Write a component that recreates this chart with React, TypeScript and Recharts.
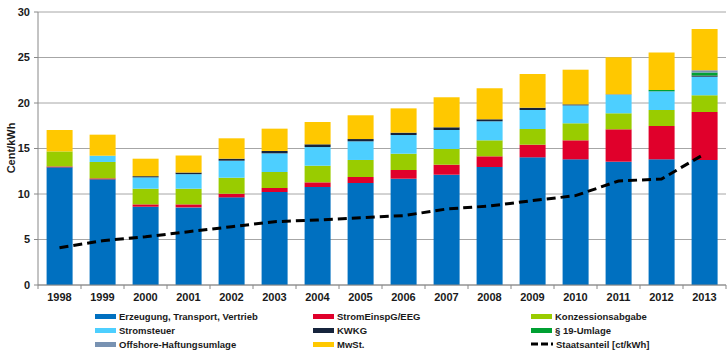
import {
  Bar,
  CartesianGrid,
  ComposedChart,
  Line,
  XAxis,
  YAxis,
} from "recharts";

const years = [
  "1998", "1999", "2000", "2001", "2002", "2003", "2004", "2005",
  "2006", "2007", "2008", "2009", "2010", "2011", "2012", "2013",
];
const erzeugung = [12.93, 11.61, 8.6, 8.53, 9.63, 10.22, 10.77, 11.21, 11.68, 12.12, 12.97, 14.03, 13.81, 13.55, 13.81, 13.74];
const eeg = [0.1, 0.11, 0.26, 0.33, 0.4, 0.44, 0.51, 0.66, 0.96, 1.1, 1.17, 1.39, 2.09, 3.56, 3.66, 5.27];
const konzession = [1.65, 1.8, 1.72, 1.72, 1.76, 1.76, 1.83, 1.87, 1.79, 1.73, 1.76, 1.72, 1.87, 1.76, 1.76, 1.84];
const stromsteuer = [0, 0.69, 1.25, 1.6, 1.87, 2.05, 2.05, 2.05, 2.05, 2.08, 2.09, 2.09, 1.97, 2.05, 2.05, 2.04];
const kwkg = [0, 0, 0.13, 0.18, 0.22, 0.26, 0.3, 0.25, 0.26, 0.3, 0.22, 0.25, 0.11, 0.03, 0.01, 0.13];
const umlage19 = [0, 0, 0, 0, 0, 0, 0, 0, 0, 0, 0, 0, 0, 0, 0.15, 0.33];
const offshore = [0, 0, 0, 0, 0, 0, 0, 0, 0, 0, 0, 0, 0, 0, 0, 0.25];
const mwst = [2.35, 2.31, 1.92, 1.87, 2.24, 2.45, 2.45, 2.61, 2.67, 3.3, 3.41, 3.71, 3.81, 4.07, 4.1, 4.53];
const staatsanteil = [4.1, 4.87, 5.3, 5.86, 6.4, 6.96, 7.14, 7.4, 7.62, 8.35, 8.68, 9.27, 9.82, 11.43, 11.65, 14.4];
const yTicks = [0, 5, 10, 15, 20, 25, 30];

const series = [
  { key: "erzeugung", name: "Erzeugung, Transport, Vertrieb", color: "#0070C0" },
  { key: "eeg", name: "StromEinspG/EEG", color: "#E0002B" },
  { key: "konzession", name: "Konzessionsabgabe", color: "#99CC00" },
  { key: "stromsteuer", name: "Stromsteuer", color: "#4DCFFF" },
  { key: "kwkg", name: "KWKG", color: "#16243C" },
  { key: "umlage19", name: "§ 19-Umlage", color: "#00A032" },
  { key: "offshore", name: "Offshore-Haftungsumlage", color: "#7892B2" },
  { key: "mwst", name: "MwSt.", color: "#FFC800" },
];

const data = years.map((year, i) => ({
  year,
  erzeugung: erzeugung[i],
  eeg: eeg[i],
  konzession: konzession[i],
  stromsteuer: stromsteuer[i],
  kwkg: kwkg[i],
  umlage19: umlage19[i],
  offshore: offshore[i],
  mwst: mwst[i],
  staatsanteil: staatsanteil[i],
}));

const font = "'Liberation Sans', Arial, sans-serif";

function XTick(props: any) {
  const { x, y, payload, index } = props;
  const half = payload.offset ?? 21.5;
  return (
    <g>
      <line x1={x - half} x2={x - half} y1={y} y2={y + 4} stroke="#888" />
      {index === years.length - 1 && (
        <line x1={x + half} x2={x + half} y1={y} y2={y + 4} stroke="#888" />
      )}
      <text
        x={x}
        y={y + 16}
        textAnchor="middle"
        fontSize={11}
        fontWeight="bold"
        fill="#1a1a1a"
        fontFamily={font}
      >
        {payload.value}
      </text>
    </g>
  );
}

const legendCols = [95, 313, 531];
const legendRows = [316, 330, 344];
const legendItems = [
  ...series.map((s) => ({ name: s.name, color: s.color, dashed: false })),
  { name: "Staatsanteil [ct/kWh]", color: "#000", dashed: true },
];
// legend goes row by row, three per row
const legendOrder = [0, 1, 2, 3, 4, 5, 6, 7, 8];

export default function App() {
  return (
    <div
      style={{
        position: "absolute",
        left: 0,
        top: 0,
        width: 728,
        height: 353,
        background: "#fff",
        fontFamily: font,
      }}
    >
      <ComposedChart
        width={728}
        height={305}
        data={data}
        margin={{ top: 12, right: 2, left: 0, bottom: 0 }}
        barCategoryGap="20%"
      >
        <CartesianGrid vertical={false} stroke="#a6a6a6" />
        <XAxis
          dataKey="year"
          height={20}
          tickLine={false}
          tickSize={0}
          tickMargin={0}
          axisLine={{ stroke: "#888" }}
          tick={<XTick />}
          interval={0}
        />
        <YAxis
          width={38}
          domain={[0, 30]}
          ticks={yTicks}
          tickSize={4}
          tickMargin={4}
          tickLine={{ stroke: "#888" }}
          axisLine={{ stroke: "#888" }}
          tick={{ fontSize: 11, fontWeight: "bold", fill: "#1a1a1a", fontFamily: font }}
          label={() => (
            <text
              x={0}
              y={0}
              transform="translate(15 148) rotate(-90)"
              textAnchor="middle"
              fontSize={11}
              fontWeight="bold"
              fill="#1a1a1a"
              fontFamily={font}
            >
              Cent/kWh
            </text>
          )}
        />
        {series.map((s) => (
          <Bar
            key={s.key}
            dataKey={s.key}
            name={s.name}
            stackId="a"
            fill={s.color}
            isAnimationActive={false}
          />
        ))}
        <Line
          type="linear"
          dataKey="staatsanteil"
          name="Staatsanteil [ct/kWh]"
          stroke="#000"
          strokeWidth={3}
          strokeDasharray="9 5"
          dot={false}
          activeDot={false}
          isAnimationActive={false}
        />
      </ComposedChart>
      {legendOrder.map((idx, i) => {
        const item = legendItems[idx];
        const left = legendCols[i % 3];
        const top = legendRows[Math.floor(i / 3)];
        return (
          <div
            key={item.name}
            style={{
              position: "absolute",
              left,
              top: top - 7,
              height: 14,
              display: "flex",
              alignItems: "center",
              whiteSpace: "nowrap",
            }}
          >
            {item.dashed ? (
              <svg width={22} height={6} style={{ marginRight: 3 }}>
                <line x1={0} x2={22} y1={3} y2={3} stroke="#000" strokeWidth={3} strokeDasharray="7 3 7 3 2 3" />
              </svg>
            ) : (
              <span
                style={{
                  display: "inline-block",
                  width: 21,
                  height: 5,
                  background: item.color,
                  marginRight: 3,
                }}
              />
            )}
            <span style={{ fontSize: 9.5, fontWeight: "bold", color: "#1a1a1a" }}>{item.name}</span>
          </div>
        );
      })}
    </div>
  );
}
